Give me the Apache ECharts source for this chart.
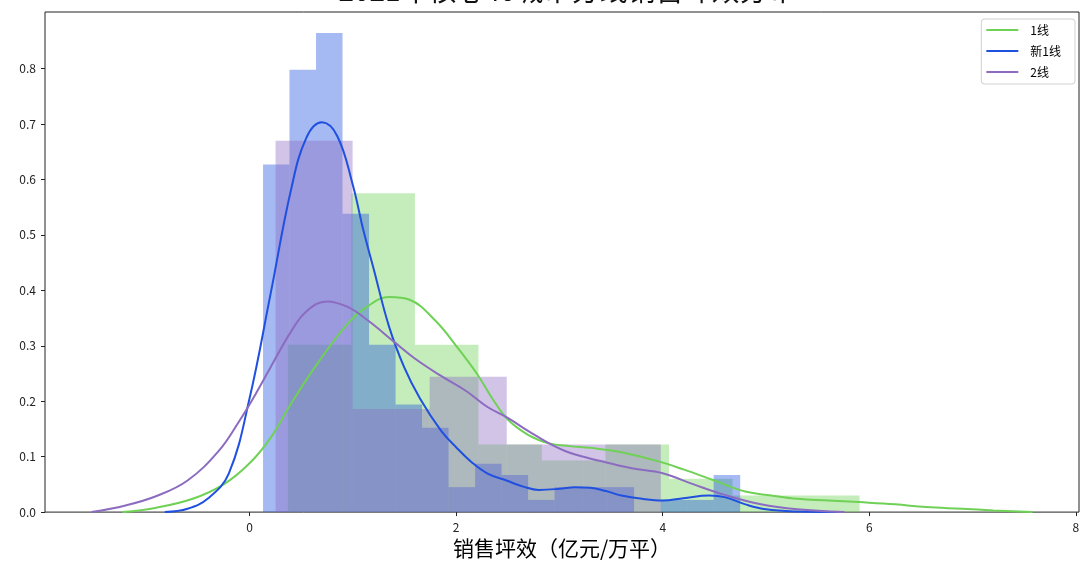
<!DOCTYPE html>
<html>
<head>
<meta charset="utf-8">
<script src="https://cdn.jsdelivr.net/npm/echarts@6/dist/echarts.min.js"></script>
<style>
  html, body { margin: 0; padding: 0; background: #fff; }
  #chart { width: 1083px; height: 564px; }
</style>
</head>
<body>
<div id="chart"></div>
<script>
// Tick positions
const xTicks = [0, 2, 4, 6, 8];
const yTicks = [0, 0.1, 0.2, 0.3, 0.4, 0.5, 0.6, 0.7, 0.8];

const seriesNames = ['1线', '新1线', '2线'];

// Histogram bin edges and densities
const edges1 = [0.371, 0.986, 1.601, 2.216, 2.831, 3.446, 4.061, 4.676, 5.291, 5.906];
const dens1 = [0.302, 0.575, 0.302, 0.122, 0.093, 0.122, 0.060, 0.030, 0.030];

const edgesNew1 = [0.131, 0.387, 0.644, 0.900, 1.157, 1.414, 1.670, 1.927, 2.184, 2.440,
                   2.697, 2.953, 3.210, 3.467, 3.723, 3.980, 4.236, 4.493, 4.750];
const densNew1 = [0.627, 0.798, 0.864, 0.538, 0.302, 0.194, 0.152, 0.045, 0.087,
                  0.067, 0.022, 0.045, 0.045, 0.045, 0.000, 0.022, 0.022, 0.067];

const edges2 = [0.252, 0.998, 1.744, 2.490, 3.236, 3.982];
const dens2 = [0.670, 0.186, 0.244, 0.122, 0.122];

// Kernel density curves: [x, density]
const kde1 = [[-1.23, 0.0], [-0.9, 0.008], [-0.55, 0.024], [-0.25, 0.05], [0.0, 0.088],
  [0.2, 0.133], [0.4, 0.195], [0.65, 0.266], [0.95, 0.34], [1.15, 0.372], [1.35, 0.388],
  [1.55, 0.383], [1.8, 0.345], [2.0, 0.3], [2.2, 0.25], [2.35, 0.205], [2.5, 0.167],
  [2.7, 0.139], [2.9, 0.124], [3.1, 0.119], [3.3, 0.116], [3.6, 0.108], [3.95, 0.092],
  [4.2, 0.077], [4.5, 0.057], [4.8, 0.037], [5.05, 0.03], [5.3, 0.024], [5.6, 0.021],
  [5.9, 0.018], [6.25, 0.014], [6.55, 0.009], [6.9, 0.006], [7.2, 0.003], [7.58, 0.0]];

const kdeNew1 = [[-0.82, 0.0], [-0.6, 0.006], [-0.4, 0.025], [-0.2, 0.07], [0.0, 0.205],
  [0.2, 0.39], [0.4, 0.58], [0.55, 0.675], [0.7, 0.703], [0.85, 0.678], [1.0, 0.59],
  [1.1, 0.51], [1.2, 0.44], [1.35, 0.335], [1.5, 0.26], [1.65, 0.205], [1.85, 0.148],
  [2.0, 0.117], [2.15, 0.09], [2.3, 0.07], [2.5, 0.056], [2.65, 0.046], [2.8, 0.04],
  [3.0, 0.042], [3.15, 0.045], [3.3, 0.044], [3.45, 0.038], [3.6, 0.03], [3.8, 0.024],
  [4.0, 0.021], [4.2, 0.025], [4.45, 0.03], [4.6, 0.027], [4.8, 0.014], [5.0, 0.005],
  [5.3, 0.001], [5.7, 0.0]];

const kde2 = [[-1.53, 0.0], [-1.2, 0.012], [-0.9, 0.029], [-0.6, 0.057], [-0.3, 0.11],
  [-0.1, 0.164], [0.05, 0.21], [0.2, 0.26], [0.4, 0.325], [0.55, 0.362], [0.75, 0.38],
  [0.95, 0.37], [1.15, 0.345], [1.4, 0.307], [1.6, 0.277], [1.85, 0.246], [2.1, 0.218],
  [2.3, 0.19], [2.5, 0.17], [2.7, 0.146], [2.9, 0.124], [3.1, 0.107], [3.4, 0.092],
  [3.7, 0.079], [4.0, 0.07], [4.3, 0.05], [4.6, 0.031], [4.95, 0.014], [5.3, 0.005],
  [5.76, 0.0]];

const colors = ['#6fd155', '#1f50e0', '#8b6cc0'];
const FONT = '"Noto Sans CJK SC", "DejaVu Sans", sans-serif';

function histSeries(name, edges, dens, color) {
  const data = dens.map((d, i) => [edges[i], edges[i + 1], d]);
  return {
    type: 'custom',
    name: name,
    data: data,
    z: 1,
    silent: true,
    encode: { x: [0, 1], y: 2 },
    renderItem: function (params, api) {
      const topLeft = api.coord([api.value(0), api.value(2)]);
      const bottomRight = api.coord([api.value(1), 0]);
      return {
        type: 'rect',
        shape: {
          x: topLeft[0],
          y: topLeft[1],
          width: bottomRight[0] - topLeft[0],
          height: bottomRight[1] - topLeft[1]
        },
        style: { fill: color, opacity: 0.4 }
      };
    }
  };
}

function kdeSeries(name, points, color, z) {
  return {
    type: 'line',
    name: name,
    data: points,
    z: z,
    smooth: 0.4,
    showSymbol: false,
    symbol: 'none',
    silent: true,
    lineStyle: { color: color, width: 2 },
    itemStyle: { color: color }
  };
}

const chart = echarts.init(document.getElementById('chart'), null, { renderer: 'canvas' });

chart.setOption({
  animation: false,
  backgroundColor: '#fff',
  graphic: [{
    type: 'text',
    x: 567,
    y: 4,
    style: {
      text: '2021年核心40城市分线销售坪效分布',
      font: '28px ' + FONT,
      fill: '#111',
      textAlign: 'center',
      textVerticalAlign: 'bottom'
    }
  }],
  grid: {
    left: 45, right: 4, top: 12, bottom: 49,
    show: true,
    borderColor: '#222',
    borderWidth: 1,
    backgroundColor: 'transparent'
  },
  legend: {
    data: seriesNames,
    orient: 'vertical',
    right: 8,
    top: 19,
    icon: 'rect',
    itemWidth: 32,
    itemHeight: 2,
    itemGap: 9,
    padding: [5, 14, 6, 5],
    borderColor: '#d0d0d0',
    borderWidth: 1,
    borderRadius: 3,
    backgroundColor: 'rgba(255,255,255,0.8)',
    textStyle: { fontSize: 12, color: '#000', fontFamily: FONT, padding: [0, 0, 0, 7] }
  },
  xAxis: {
    type: 'value',
    min: -1.98,
    max: 8.03,
    name: '销售坪效（亿元/万平）',
    nameLocation: 'middle',
    nameGap: 24,
    nameTextStyle: { fontSize: 21, color: '#000', fontFamily: FONT },
    axisLine: { show: false, onZero: false },
    splitLine: { show: false },
    axisTick: {
      show: true, inside: false, length: 4,
      lineStyle: { color: '#222' },
      customValues: xTicks
    },
    axisLabel: {
      show: true, margin: 9, fontSize: 12, color: '#222', fontFamily: FONT,
      customValues: xTicks,
      formatter: v => String(v)
    }
  },
  yAxis: {
    type: 'value',
    min: 0,
    max: 0.902,
    axisLine: { show: false, onZero: false },
    splitLine: { show: false },
    axisTick: {
      show: true, inside: false, length: 4,
      lineStyle: { color: '#222' },
      customValues: yTicks
    },
    axisLabel: {
      show: true, margin: 9, fontSize: 12, color: '#222', fontFamily: FONT,
      customValues: yTicks,
      formatter: v => v.toFixed(1)
    }
  },
  series: [
    histSeries('1线 直方', edges1, dens1, colors[0]),
    histSeries('新1线 直方', edgesNew1, densNew1, colors[1]),
    histSeries('2线 直方', edges2, dens2, colors[2]),
    kdeSeries(seriesNames[0], kde1, colors[0], 3),
    kdeSeries(seriesNames[1], kdeNew1, colors[1], 4),
    kdeSeries(seriesNames[2], kde2, colors[2], 5)
  ]
});
</script>
</body>
</html>
